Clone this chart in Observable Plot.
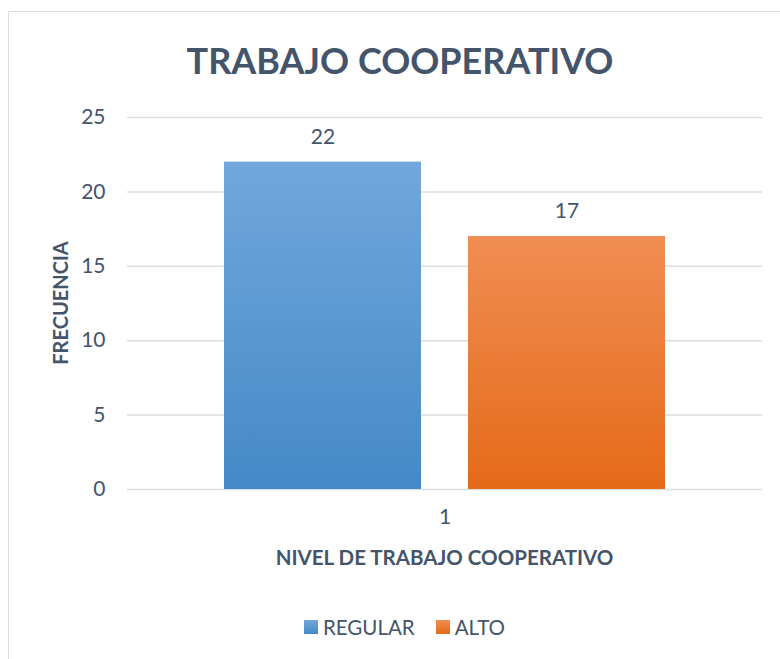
<!DOCTYPE html>
<html><head><meta charset="utf-8">
<script src="https://cdn.jsdelivr.net/npm/d3@7"></script>
<script src="https://cdn.jsdelivr.net/npm/@observablehq/plot@0.6"></script>
<style>
body{margin:0;background:#fff;}
#wrap{position:relative;width:780px;height:659px;overflow:hidden;font-family:Lato,"Open Sans",sans-serif;color:#44546A;background:#fff;}
#border{position:absolute;left:8px;top:11px;width:800px;height:700px;border:1.5px solid #D9DEE5;box-sizing:border-box;}
#chart{position:absolute;left:0;top:0;}
#title{position:absolute;left:0;width:800px;top:36px;text-align:center;font-size:36px;font-weight:700;line-height:48px;}
#ytitle{position:absolute;left:60px;top:303px;transform:translate(-50%,-50%) rotate(-90deg);font-size:20px;font-weight:700;white-space:nowrap;}
#xtitle{position:absolute;left:444.5px;top:557px;transform:translate(-50%,-50%);font-size:20.5px;font-weight:700;white-space:nowrap;}
#legend{position:absolute;left:304px;top:616px;display:flex;align-items:center;font-size:20.5px;line-height:22px;}
#legend .sw{display:inline-block;width:14px;height:14px;margin-right:5px;}
#legend .it{display:flex;align-items:center;margin-right:21px;}
</style></head>
<body>
<div id="wrap">
  <div id="border"></div>
  <div id="chart"></div>
  <div id="title"></div>
  <div id="ytitle"></div>
  <div id="xtitle"></div>
  <div id="legend"></div>
</div>
<script>
const chartTitle = "TRABAJO COOPERATIVO";
const xTitle = "NIVEL DE TRABAJO COOPERATIVO";
const yTitle = "FRECUENCIA";
const categories = ["1"];
const series = ["REGULAR", "ALTO"];
const values = [22, 17];
const yTicks = [0, 5, 10, 15, 20, 25];
const gradTop = ["#72A7DB", "#F18D53"];
const gradBottom = ["#4489C8", "#E46A18"];

const rows = series.map((s, i) => ({cat: categories[0], series: s, value: values[i]}));
const gradIds = series.map((s, i) => "grad" + i);

const plot = Plot.plot({
  width: 780,
  height: 659,
  marginTop: 117,
  marginBottom: 170,
  marginLeft: 127,
  marginRight: 18,
  style: {fontFamily: "Lato, 'Open Sans', sans-serif", fontSize: "21px", color: "#44546A", background: "transparent"},
  fx: {domain: categories, padding: 0, label: null},
  x: {domain: series, paddingInner: 0.1926, paddingOuter: 0.3975, axis: null},
  y: {domain: [0, 25], label: null},
  color: {domain: series, range: gradIds.map(id => `url(#${id})`)},
  marks: [
    Plot.ruleY(yTicks, {stroke: "#D9DEE5", strokeWidth: 1.5}),
    Plot.barY(rows, {fx: "cat", x: "series", y: "value", fill: "series"}),
    Plot.text(rows, {fx: "cat", x: "series", y: "value", text: d => String(d.value), dy: -25, fontSize: 21, fill: "#44546A"}),
    Plot.axisY(yTicks, {tickSize: 0, tickPadding: 22, label: null, fontSize: 21}),
    Plot.axisFx({anchor: "bottom", tickSize: 0, tickPadding: 20, label: null, fontSize: 21})
  ]
});

const svg = d3.select(plot);
const defs = svg.insert("defs", ":first-child");
series.forEach((s, i) => {
  const g = defs.append("linearGradient").attr("id", gradIds[i]).attr("x1", 0).attr("y1", 0).attr("x2", 0).attr("y2", 1);
  g.append("stop").attr("offset", "0%").attr("stop-color", gradTop[i]);
  g.append("stop").attr("offset", "100%").attr("stop-color", gradBottom[i]);
});
document.getElementById("chart").appendChild(plot);

document.getElementById("title").textContent = chartTitle;
document.getElementById("ytitle").textContent = yTitle;
document.getElementById("xtitle").textContent = xTitle;
const legend = document.getElementById("legend");
series.forEach((s, i) => {
  const it = document.createElement("span");
  it.className = "it";
  const sw = document.createElement("span");
  sw.className = "sw";
  sw.style.background = `linear-gradient(${gradTop[i]}, ${gradBottom[i]})`;
  it.appendChild(sw);
  it.appendChild(document.createTextNode(s));
  legend.appendChild(it);
});
</script>
</body></html>
